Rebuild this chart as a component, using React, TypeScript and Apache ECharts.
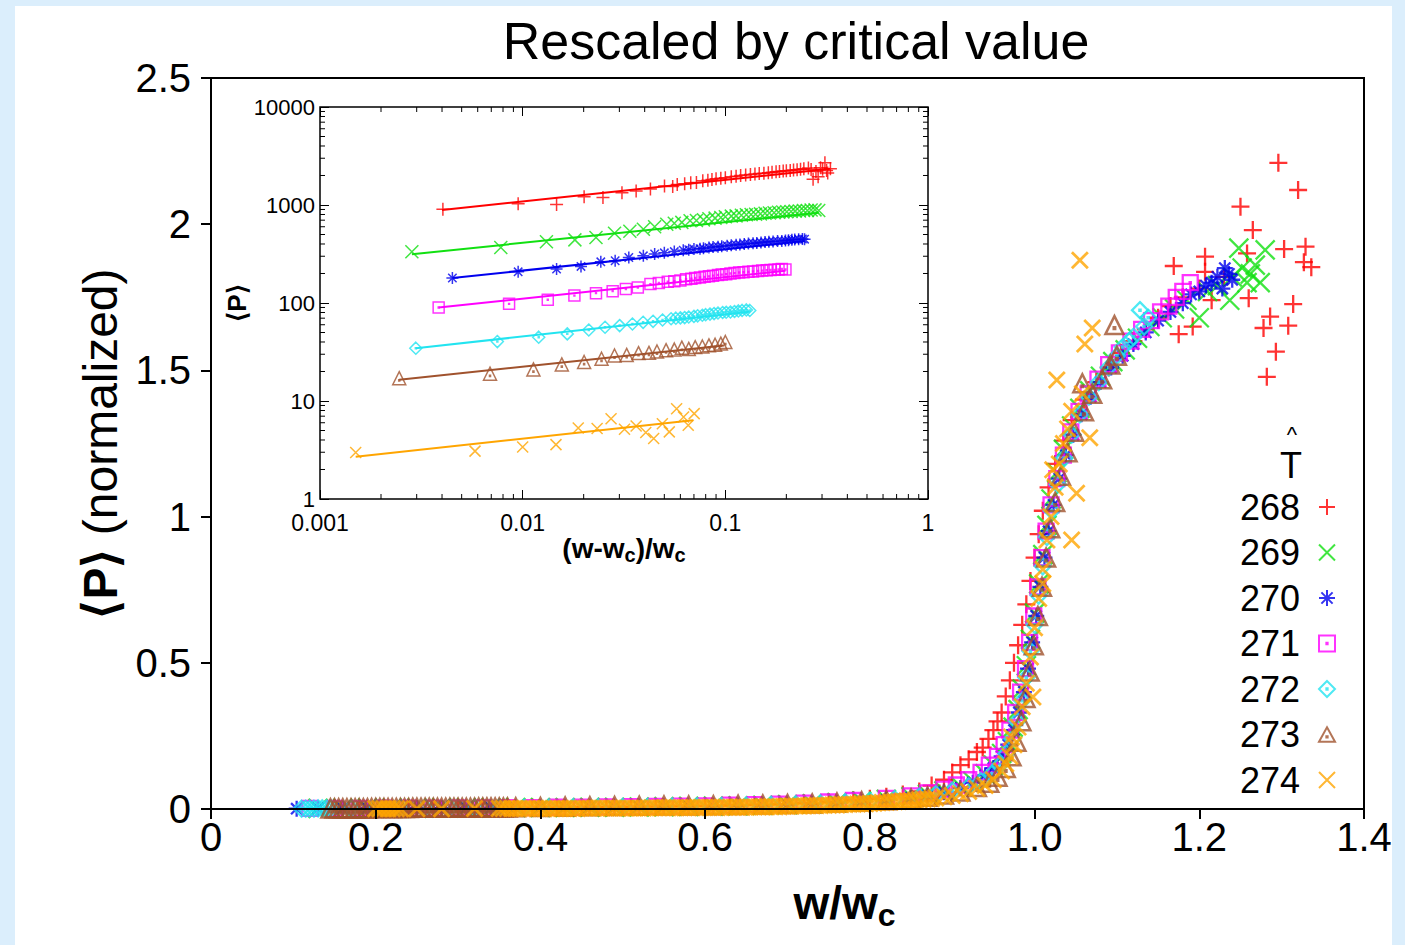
import React, { useEffect, useRef } from 'react';
import * as echarts from 'echarts';

const FONT = "'Liberation Sans', Arial, Helvetica, sans-serif";

const SERIES_NAMES = ['268', '269', '270', '271', '272', '273', '274'];
const COLORS = ['#ff0000', '#11e011', '#0000ee', '#ff00ff', '#22e4f0', '#a0522d', '#ffa500'];

const TITLE = 'Rescaled by critical value';
const MAIN_X_TICKS_MIN = 0;
const MAIN_X_TICKS_MAX = 1.4;
const MAIN_Y_MAX = 2.5;

// ---------- main chart data: [w/wc, <P> normalized] ----------
const main268 = [
  [0.15, 0.002], [0.18, 0.002], [0.21, 0.003], [0.24, 0.003], [0.27, 0.003], [0.30, 0.004], [0.33, 0.004], [0.36, 0.004],
  [0.39, 0.005], [0.42, 0.005], [0.45, 0.006], [0.48, 0.006], [0.51, 0.007], [0.54, 0.008], [0.57, 0.009], [0.60, 0.010],
  [0.63, 0.012], [0.66, 0.014], [0.69, 0.016], [0.72, 0.020], [0.75, 0.024], [0.78, 0.030], [0.80, 0.035], [0.82, 0.042],
  [0.84, 0.050], [0.86, 0.060], [0.875, 0.080], [0.89, 0.100], [0.90, 0.125], [0.91, 0.150], [0.92, 0.170], [0.93, 0.195],
  [0.937, 0.21], [0.944, 0.24], [0.95, 0.27], [0.955, 0.30], [0.96, 0.33], [0.965, 0.385], [0.97, 0.44], [0.975, 0.50],
  [0.98, 0.56], [0.985, 0.63], [0.99, 0.70], [0.995, 0.78], [1.0, 0.86], [1.005, 0.94], [1.01, 1.02], [1.017, 1.10],
  [1.025, 1.18], [1.035, 1.26], [1.045, 1.33], [1.06, 1.40], [1.075, 1.46], [1.09, 1.51], [1.105, 1.56], [1.12, 1.60],
  [1.135, 1.64], [1.15, 1.68], [1.165, 1.72], [1.169, 1.857], [1.175, 1.624], [1.18, 1.75], [1.192, 1.65], [1.20, 1.78],
  [1.207, 1.889], [1.207, 1.837], [1.215, 1.74], [1.23, 1.82], [1.25, 2.06], [1.258, 1.90], [1.26, 1.747], [1.265, 1.98],
  [1.278, 1.645], [1.282, 1.478], [1.286, 1.684], [1.293, 1.564], [1.296, 2.21], [1.303, 1.915], [1.308, 1.653],
  [1.314, 1.727], [1.32, 2.117], [1.327, 1.87], [1.329, 1.923], [1.336, 1.853],
];
const main269 = [
  [0.13, 0.002], [0.16, 0.002], [0.19, 0.003], [0.22, 0.003], [0.25, 0.003], [0.28, 0.004], [0.31, 0.004], [0.34, 0.004],
  [0.37, 0.005], [0.40, 0.005], [0.43, 0.005], [0.46, 0.006], [0.49, 0.006], [0.52, 0.007], [0.55, 0.008], [0.58, 0.009],
  [0.61, 0.010], [0.64, 0.011], [0.67, 0.013], [0.70, 0.015], [0.73, 0.018], [0.76, 0.022], [0.79, 0.027], [0.82, 0.033],
  [0.85, 0.042], [0.87, 0.050], [0.89, 0.062], [0.91, 0.078], [0.925, 0.095], [0.94, 0.12], [0.95, 0.15], [0.96, 0.19],
  [0.967, 0.23], [0.974, 0.28], [0.98, 0.34], [0.985, 0.41], [0.99, 0.49], [0.995, 0.58], [1.0, 0.67], [1.005, 0.77],
  [1.01, 0.87], [1.015, 0.97], [1.02, 1.06], [1.027, 1.15], [1.035, 1.23], [1.045, 1.31], [1.055, 1.37], [1.067, 1.43],
  [1.08, 1.48], [1.095, 1.53], [1.11, 1.57], [1.125, 1.61], [1.14, 1.65], [1.155, 1.68], [1.17, 1.71], [1.185, 1.74],
  [1.20, 1.68], [1.21, 1.77], [1.222, 1.79], [1.237, 1.74], [1.24, 1.82], [1.248, 1.918], [1.252, 1.85], [1.258, 1.80],
  [1.262, 1.83], [1.268, 1.86], [1.274, 1.80], [1.28, 1.912],
];
const main270 = [
  [0.104, 0.001], [0.13, 0.002], [0.16, 0.002], [0.19, 0.002], [0.22, 0.003], [0.25, 0.003], [0.28, 0.003], [0.31, 0.004],
  [0.34, 0.004], [0.37, 0.004], [0.40, 0.005], [0.43, 0.005], [0.46, 0.006], [0.49, 0.006], [0.52, 0.007], [0.55, 0.008],
  [0.58, 0.008], [0.61, 0.009], [0.64, 0.011], [0.67, 0.012], [0.70, 0.014], [0.73, 0.017], [0.76, 0.021], [0.79, 0.025],
  [0.82, 0.030], [0.85, 0.038], [0.87, 0.046], [0.89, 0.057], [0.91, 0.072], [0.925, 0.09], [0.94, 0.115], [0.95, 0.14],
  [0.96, 0.18], [0.968, 0.22], [0.975, 0.27], [0.981, 0.33], [0.987, 0.40], [0.992, 0.48], [0.997, 0.57], [1.002, 0.66],
  [1.007, 0.76], [1.012, 0.86], [1.017, 0.95], [1.023, 1.04], [1.03, 1.13], [1.038, 1.21], [1.047, 1.28], [1.057, 1.35],
  [1.068, 1.41], [1.08, 1.46], [1.093, 1.51], [1.107, 1.55], [1.12, 1.59], [1.135, 1.63], [1.15, 1.67], [1.165, 1.70],
  [1.18, 1.73], [1.19, 1.76], [1.20, 1.77], [1.208, 1.79], [1.215, 1.80], [1.222, 1.82], [1.228, 1.78], [1.231, 1.85],
  [1.236, 1.83], [1.24, 1.81],
];
const main271 = [
  [0.12, 0.002], [0.15, 0.002], [0.18, 0.002], [0.21, 0.003], [0.24, 0.003], [0.27, 0.003], [0.30, 0.004], [0.33, 0.004],
  [0.36, 0.005], [0.39, 0.005], [0.42, 0.006], [0.45, 0.006], [0.48, 0.007], [0.51, 0.008], [0.54, 0.009], [0.57, 0.010],
  [0.60, 0.011], [0.63, 0.013], [0.66, 0.015], [0.69, 0.017], [0.72, 0.020], [0.75, 0.024], [0.78, 0.029], [0.82, 0.036],
  [0.85, 0.045], [0.87, 0.055], [0.89, 0.068], [0.905, 0.082], [0.92, 0.10], [0.935, 0.125], [0.945, 0.15], [0.955, 0.18],
  [0.963, 0.22], [0.97, 0.27], [0.977, 0.33], [0.983, 0.40], [0.989, 0.48], [0.994, 0.57], [0.999, 0.66], [1.004, 0.76],
  [1.009, 0.86], [1.014, 0.95], [1.02, 1.04], [1.027, 1.13], [1.035, 1.21], [1.044, 1.29], [1.054, 1.36], [1.065, 1.42],
  [1.077, 1.47], [1.09, 1.52], [1.103, 1.56], [1.117, 1.60], [1.13, 1.64], [1.142, 1.67], [1.153, 1.70], [1.163, 1.72],
  [1.172, 1.75], [1.18, 1.77], [1.189, 1.80],
];
const main272 = [
  [0.11, 0.001], [0.115, 0.001], [0.12, 0.001], [0.125, 0.001], [0.13, 0.002], [0.135, 0.002], [0.14, 0.002], [0.145, 0.002],
  [0.17, 0.002], [0.20, 0.003], [0.23, 0.003],
  [0.26, 0.003], [0.29, 0.004], [0.32, 0.004], [0.35, 0.004], [0.38, 0.005], [0.41, 0.005], [0.44, 0.006], [0.47, 0.006],
  [0.50, 0.007], [0.53, 0.007], [0.56, 0.008], [0.59, 0.009], [0.62, 0.010], [0.65, 0.012], [0.68, 0.014], [0.71, 0.016],
  [0.74, 0.019], [0.77, 0.023], [0.80, 0.028], [0.83, 0.034], [0.86, 0.042], [0.88, 0.050], [0.90, 0.062], [0.92, 0.078],
  [0.935, 0.095], [0.948, 0.12], [0.958, 0.15], [0.966, 0.19], [0.973, 0.24], [0.979, 0.30], [0.985, 0.37], [0.99, 0.45],
  [0.995, 0.54], [1.0, 0.63], [1.005, 0.73], [1.01, 0.83], [1.015, 0.93], [1.021, 1.02], [1.028, 1.11], [1.036, 1.20],
  [1.045, 1.28], [1.055, 1.35], [1.066, 1.41], [1.078, 1.46], [1.09, 1.51], [1.10, 1.55], [1.107, 1.58], [1.115, 1.60],
  [1.12, 1.615], [1.128, 1.706], [1.133, 1.65], [1.138, 1.68],
];
const main273 = [
  [0.145, 0.002], [0.15, 0.002], [0.155, 0.002], [0.16, 0.002], [0.165, 0.002], [0.17, 0.002], [0.175, 0.002], [0.18, 0.002],
  [0.185, 0.002], [0.19, 0.002], [0.195, 0.003], [0.20, 0.003], [0.205, 0.003], [0.21, 0.003], [0.215, 0.003], [0.22, 0.003],
  [0.225, 0.003], [0.23, 0.003], [0.235, 0.003], [0.24, 0.003], [0.245, 0.004], [0.25, 0.004], [0.255, 0.004], [0.26, 0.004],
  [0.265, 0.004], [0.27, 0.004], [0.275, 0.004], [0.28, 0.004], [0.285, 0.004], [0.29, 0.004], [0.295, 0.004], [0.30, 0.004],
  [0.305, 0.004], [0.31, 0.004], [0.315, 0.004], [0.32, 0.004], [0.325, 0.005], [0.33, 0.005], [0.335, 0.005], [0.34, 0.005],
  [0.345, 0.005], [0.35, 0.005], [0.355, 0.005], [0.36, 0.005],
  [0.37, 0.006], [0.40, 0.007], [0.43, 0.008], [0.46, 0.009], [0.49, 0.010], [0.52, 0.011], [0.55, 0.012], [0.58, 0.012],
  [0.61, 0.013], [0.64, 0.014], [0.67, 0.015], [0.70, 0.017], [0.73, 0.019], [0.76, 0.022], [0.79, 0.026], [0.82, 0.030],
  [0.85, 0.036], [0.87, 0.042], [0.89, 0.050], [0.91, 0.060], [0.93, 0.075], [0.945, 0.09], [0.955, 0.11], [0.965, 0.14],
  [0.972, 0.18], [0.978, 0.23], [0.984, 0.30], [0.989, 0.38], [0.994, 0.47], [0.999, 0.56], [1.004, 0.66], [1.009, 0.76],
  [1.014, 0.86], [1.019, 0.96], [1.025, 1.05], [1.032, 1.14], [1.04, 1.22], [1.048, 1.29], [1.058, 1.456], [1.06, 1.36],
  [1.07, 1.42], [1.082, 1.47], [1.092, 1.52], [1.097, 1.655], [1.10, 1.55],
];
const main274 = [
  [0.20, 0.001], [0.205, 0.001], [0.21, 0.001], [0.215, 0.001], [0.22, 0.001], [0.225, 0.001], [0.23, 0.001], [0.25, 0.001],
  [0.28, 0.001], [0.32, 0.002], [0.35, 0.002], [0.355, 0.002],
  [0.36, 0.002], [0.365, 0.002], [0.37, 0.002], [0.375, 0.002], [0.38, 0.002], [0.385, 0.002], [0.39, 0.002], [0.395, 0.002],
  [0.40, 0.002], [0.405, 0.002], [0.41, 0.002], [0.415, 0.002], [0.42, 0.002], [0.425, 0.002], [0.43, 0.002], [0.435, 0.002],
  [0.44, 0.002], [0.445, 0.002], [0.45, 0.003], [0.455, 0.003], [0.46, 0.003], [0.465, 0.003], [0.47, 0.003], [0.475, 0.003],
  [0.48, 0.003], [0.485, 0.003], [0.49, 0.003], [0.495, 0.003], [0.50, 0.003], [0.505, 0.003], [0.51, 0.003], [0.515, 0.003],
  [0.52, 0.003], [0.525, 0.003], [0.53, 0.003], [0.535, 0.004], [0.54, 0.004], [0.545, 0.004], [0.55, 0.004], [0.555, 0.004],
  [0.56, 0.004], [0.565, 0.004], [0.57, 0.004], [0.575, 0.004], [0.58, 0.004], [0.585, 0.005], [0.59, 0.005], [0.595, 0.005],
  [0.60, 0.005], [0.605, 0.005], [0.61, 0.005], [0.615, 0.005], [0.62, 0.005], [0.625, 0.006], [0.63, 0.006], [0.635, 0.006],
  [0.64, 0.006], [0.645, 0.006], [0.65, 0.006], [0.655, 0.007], [0.66, 0.007], [0.665, 0.007], [0.67, 0.007], [0.675, 0.008],
  [0.68, 0.008], [0.685, 0.008], [0.69, 0.008], [0.695, 0.009], [0.70, 0.009], [0.705, 0.010], [0.71, 0.010], [0.715, 0.010],
  [0.72, 0.010], [0.725, 0.011], [0.73, 0.011], [0.735, 0.012], [0.74, 0.012], [0.745, 0.013], [0.75, 0.013], [0.755, 0.014],
  [0.76, 0.014], [0.765, 0.015], [0.77, 0.015], [0.775, 0.016], [0.78, 0.016], [0.785, 0.017], [0.79, 0.018], [0.795, 0.018],
  [0.80, 0.019], [0.805, 0.020], [0.81, 0.021], [0.815, 0.022], [0.82, 0.023], [0.825, 0.024], [0.83, 0.025], [0.835, 0.026],
  [0.84, 0.027], [0.845, 0.028], [0.85, 0.029], [0.855, 0.030], [0.86, 0.032], [0.865, 0.033], [0.87, 0.035], [0.875, 0.036],
  [0.88, 0.038], [0.89, 0.042], [0.90, 0.046], [0.91, 0.052],
  [0.92, 0.060], [0.93, 0.070], [0.94, 0.080], [0.95, 0.10], [0.96, 0.13], [0.965, 0.155], [0.97, 0.18], [0.972, 0.246],
  [0.975, 0.22], [0.98, 0.28], [0.985, 0.35], [0.99, 0.43], [0.995, 0.52], [0.998, 0.383], [1.0, 0.62], [1.005, 0.72],
  [1.01, 0.77], [1.01, 0.82], [1.015, 0.92], [1.02, 1.0], [1.022, 1.16], [1.025, 1.10], [1.027, 1.467], [1.03, 1.18],
  [1.035, 1.25], [1.04, 1.30], [1.045, 0.92], [1.045, 1.36], [1.051, 1.08], [1.055, 1.877], [1.058, 1.42], [1.061, 1.59],
  [1.067, 1.27], [1.07, 1.645],
];

// ---------- inset data: [(w-wc)/wc, <P>] ----------
const inset268 = [
  [0.00404, 904], [0.0095, 1032], [0.0147, 1010], [0.0201, 1216], [0.0249, 1190], [0.0309, 1334], [0.0363, 1387], [0.0427, 1460],
  [0.0501, 1560], [0.055, 1540], [0.0579, 1620], [0.063, 1650], [0.0675, 1687], [0.072, 1700], [0.0774, 1766], [0.082, 1790],
  [0.0859, 1823], [0.09, 1850], [0.095, 1880], [0.1, 1900], [0.107, 1938], [0.113, 1960], [0.119, 2000], [0.126, 2020],
  [0.133, 2050], [0.14, 2070], [0.147, 2100], [0.155, 2110], [0.163, 2130], [0.17, 2160], [0.178, 2180], [0.185, 2200],
  [0.193, 2220], [0.2, 2230], [0.209, 2250], [0.217, 2270], [0.226, 2290], [0.235, 2310], [0.244, 2340], [0.257, 2380],
  [0.265, 2300], [0.271, 1830], [0.28, 2200], [0.287, 1940], [0.295, 2400], [0.302, 2320], [0.31, 2700], [0.316, 2250],
  [0.32, 2120], [0.33, 2340],
];
const inset269 = [
  [0.00284, 333], [0.0078, 368], [0.0131, 421], [0.0181, 441], [0.023, 466], [0.0284, 515], [0.0338, 540], [0.0394, 565],
  [0.0448, 600], [0.0514, 635], [0.056, 650], [0.061, 665], [0.067, 690], [0.072, 695], [0.078, 705], [0.083, 725],
  [0.089, 735], [0.095, 745], [0.1, 760], [0.107, 770], [0.113, 775], [0.12, 785], [0.127, 795], [0.134, 800],
  [0.141, 805], [0.149, 812], [0.157, 825], [0.165, 830], [0.174, 835], [0.183, 842], [0.192, 848], [0.201, 855],
  [0.211, 860], [0.221, 866], [0.232, 870], [0.243, 878], [0.254, 880], [0.265, 888], [0.277, 892], [0.289, 880],
];
const inset270 = [
  [0.0045, 180], [0.0095, 208], [0.0147, 222], [0.0194, 236], [0.0243, 263], [0.0286, 270], [0.0334, 291], [0.0394, 303],
  [0.0448, 316], [0.05, 325], [0.056, 335], [0.062, 345], [0.066, 350], [0.07, 355], [0.075, 358], [0.078, 362],
  [0.083, 368], [0.087, 372], [0.092, 376], [0.096, 380], [0.102, 384], [0.107, 388], [0.113, 392], [0.118, 395],
  [0.124, 400], [0.13, 405], [0.137, 407], [0.143, 410], [0.15, 414], [0.157, 418], [0.164, 421], [0.172, 425],
  [0.181, 428], [0.19, 430], [0.198, 434], [0.205, 438], [0.213, 441], [0.22, 445], [0.23, 447], [0.24, 450], [0.246, 448],
];
const inset271 = [
  [0.00385, 90], [0.00857, 98], [0.0133, 108], [0.018, 119], [0.023, 126], [0.0278, 132], [0.0323, 139], [0.037, 144],
  [0.0427, 156], [0.047, 160], [0.052, 165], [0.056, 167], [0.06, 170], [0.064, 175], [0.068, 177], [0.071, 180],
  [0.075, 182], [0.079, 185], [0.083, 187], [0.087, 190], [0.092, 193], [0.096, 195], [0.101, 197], [0.106, 200],
  [0.111, 202], [0.117, 205], [0.123, 206], [0.13, 208], [0.137, 210], [0.145, 212], [0.152, 214], [0.16, 216],
  [0.167, 217], [0.175, 218], [0.183, 220], [0.19, 222], [0.198, 220],
];
const inset272 = [
  [0.00297, 34.6], [0.0075, 40.4], [0.012, 44.8], [0.0166, 48.4], [0.0212, 53], [0.0255, 56.6], [0.0301, 58.8], [0.0348, 61.1],
  [0.0393, 63.5], [0.044, 65], [0.049, 67], [0.054, 69], [0.057, 70], [0.06, 70.5], [0.063, 71], [0.066, 72], [0.07, 73],
  [0.073, 74], [0.077, 75], [0.08, 76], [0.084, 77], [0.088, 78], [0.092, 79], [0.097, 80], [0.101, 80.5], [0.106, 81],
  [0.111, 82], [0.116, 83], [0.121, 84], [0.127, 85], [0.132, 84],
];
const inset273 = [
  [0.00246, 17.1], [0.0069, 19], [0.0113, 21], [0.0156, 23.6], [0.0201, 25], [0.0245, 27], [0.0284, 29.1], [0.0326, 29.5],
  [0.0373, 30.8], [0.042, 31], [0.046, 32], [0.051, 33], [0.056, 33.5], [0.061, 35], [0.066, 34], [0.071, 35.5],
  [0.077, 36], [0.083, 37], [0.089, 37.5], [0.095, 38.5], [0.1, 40],
];
const inset274 = [
  [0.0015, 2.98], [0.00582, 3.08], [0.01, 3.4], [0.0146, 3.59], [0.0188, 5.31], [0.0233, 5.23], [0.0273, 6.6], [0.0318, 5.15],
  [0.0363, 5.57], [0.0405, 4.76], [0.0443, 4.14], [0.0489, 5.87], [0.0529, 4.84], [0.0575, 8.35], [0.0622, 6.87],
  [0.0656, 5.66], [0.0702, 7.43],
];

// power-law fit lines (end points)
const fit268 = [[0.004, 889], [0.33, 2340]];
const fit269 = [[0.00284, 315], [0.289, 835]];
const fit270 = [[0.0045, 180], [0.246, 430]];
const fit271 = [[0.00385, 90], [0.198, 213]];
const fit272 = [[0.00297, 34.6], [0.132, 81.6]];
const fit273 = [[0.00246, 16.5], [0.0984, 36.8]];
const fit274 = [[0.0015, 2.7], [0.0693, 6.36]];

const INSET_X_MIN = 0.001;
const INSET_X_MAX = 1;
const INSET_Y_MIN = 1;
const INSET_Y_MAX = 10000;
const INSET_X_MINOR = [
  0.002, 0.003, 0.004, 0.005, 0.006, 0.007, 0.008, 0.009,
  0.02, 0.03, 0.04, 0.05, 0.06, 0.07, 0.08, 0.09,
  0.2, 0.3, 0.4, 0.5, 0.6, 0.7, 0.8, 0.9,
];
const INSET_Y_MINOR = [
  2, 3, 4, 5, 6, 7, 8, 9, 20, 30, 40, 50, 60, 70, 80, 90,
  200, 300, 400, 500, 600, 700, 800, 900, 2000, 3000, 4000, 5000, 6000, 7000, 8000, 9000,
];

const MAIN_DATA = [main268, main269, main270, main271, main272, main273, main274];
const INSET_DATA = [inset268, inset269, inset270, inset271, inset272, inset273, inset274];
const FIT_DATA = [fit268, fit269, fit270, fit271, fit272, fit273, fit274];

const DOT = 'M4.6,4.6L5.4,4.6L5.4,5.4L4.6,5.4Z';
const SYMBOLS = [
  'path://M5,0L5,10M0,5L10,5',
  'path://M0,0L10,10M10,0L0,10',
  'path://M5,0L5,10M0,5L10,5M1.5,1.5L8.5,8.5M8.5,1.5L1.5,8.5',
  'path://M0,0L10,0L10,10L0,10Z' + DOT,
  'path://M5,0L10,5L5,10L0,5Z' + DOT,
  'path://M5,0L10,9L0,9Z' + 'M4.6,5.6L5.4,5.6L5.4,6.4L4.6,6.4Z',
  'path://M0,0L10,10M10,0L0,10',
];
const MAIN_SIZES = [18, 19, 16, 15, 16, 18, 16];
const MAIN_STROKES = [2.3, 2.3, 2.3, 2.3, 2.3, 2.5, 2.8];
const INSET_SIZES = [13, 13, 12, 11, 12, 13, 11];

function logLabel(v: number) {
  const e = Math.round(Math.log10(v));
  return e >= 0 ? String(Math.round(Math.pow(10, e))) : Math.pow(10, e).toFixed(-e);
}

export default function App() {
  const ref = useRef<HTMLDivElement>(null);
  useEffect(() => {
    const chart = echarts.init(ref.current!, null, { renderer: 'svg' });
    const series: any[] = [];
    SERIES_NAMES.forEach((name, i) => {
      series.push({
        name,
        type: 'scatter',
        xAxisIndex: 0,
        yAxisIndex: 0,
        data: MAIN_DATA[i],
        symbol: SYMBOLS[i],
        symbolSize: MAIN_SIZES[i],
        itemStyle: { color: 'transparent', borderColor: COLORS[i], borderWidth: MAIN_STROKES[i] },
        z: 2 + i * 0.01,
      });
    });
    SERIES_NAMES.forEach((name, i) => {
      series.push({
        name: name + ' inset',
        type: 'scatter',
        xAxisIndex: 1,
        yAxisIndex: 1,
        data: INSET_DATA[i],
        symbol: SYMBOLS[i],
        symbolSize: INSET_SIZES[i],
        itemStyle: { color: 'transparent', borderColor: COLORS[i], borderWidth: 1.5 },
        z: 3,
      });
      series.push({
        name: name + ' fit',
        type: 'line',
        xAxisIndex: 1,
        yAxisIndex: 1,
        data: FIT_DATA[i],
        symbol: 'none',
        lineStyle: { color: COLORS[i], width: 2 },
        z: 4,
      });
    });
    const tick = (x1: number, y1: number, x2: number, y2: number) => ({
      type: 'line',
      shape: { x1, y1, x2, y2 },
      style: { stroke: '#000', lineWidth: 1 },
    });
    series.push({
      type: 'custom',
      name: 'xminor',
      xAxisIndex: 1,
      yAxisIndex: 1,
      silent: true,
      clip: false,
      data: INSET_X_MINOR.map((v) => [v, INSET_Y_MIN]),
      renderItem: (params: any, api: any) => {
        const b = api.coord([api.value(0), INSET_Y_MIN]);
        const t = api.coord([api.value(0), INSET_Y_MAX]);
        return { type: 'group', children: [tick(b[0], b[1], b[0], b[1] - 5), tick(t[0], t[1], t[0], t[1] + 5)] };
      },
      z: 5,
    });
    series.push({
      type: 'custom',
      name: 'yminor',
      xAxisIndex: 1,
      yAxisIndex: 1,
      silent: true,
      clip: false,
      data: INSET_Y_MINOR.map((v) => [INSET_X_MIN, v]),
      renderItem: (params: any, api: any) => {
        const l = api.coord([INSET_X_MIN, api.value(1)]);
        const r = api.coord([INSET_X_MAX, api.value(1)]);
        return { type: 'group', children: [tick(l[0], l[1], l[0] + 5, l[1]), tick(r[0], r[1], r[0] - 5, r[1])] };
      },
      z: 5,
    });

    const insetAxisCommon = {
      type: 'log',
      logBase: 10,
      gridIndex: 1,
      splitLine: { show: false },
      axisLine: { show: false },
      axisTick: { show: true, inside: true, length: 9, lineStyle: { color: '#000', width: 1 } },
    };

    const option: any = {
      animation: false,
      backgroundColor: '#dbeefc',
      textStyle: { fontFamily: FONT },
      title: {
        text: TITLE,
        left: 791,
        top: 10,
        textAlign: 'center',
        textStyle: { fontSize: 52, fontWeight: 'normal', color: '#000', fontFamily: FONT },
      },
      graphic: [
        { type: 'rect', z: -10, shape: { x: 15, y: 6, width: 1377, height: 939 }, style: { fill: '#ffffff' } },
        { type: 'text', z: 10, style: { text: 'T', x: 1291, y: 465, fontSize: 36, fontFamily: FONT, fill: '#000', align: 'center', verticalAlign: 'middle' } },
        { type: 'text', z: 10, style: { text: '^', x: 1292, y: 434, fontSize: 22, fontFamily: FONT, fill: '#000', align: 'center', verticalAlign: 'middle' } },
      ],
      legend: {
        orient: 'vertical',
        right: 64,
        top: 484,
        align: 'right',
        itemWidth: 16,
        itemHeight: 16,
        itemGap: 9.5,
        selectedMode: false,
        data: SERIES_NAMES,
        textStyle: { fontSize: 36, fontFamily: FONT, color: '#000', padding: [0, 14, 0, 0] },
        itemStyle: { borderWidth: 2 },
      },
      grid: [
        { left: 211, top: 78, width: 1153, height: 731, show: true, borderColor: '#000', borderWidth: 2, backgroundColor: 'transparent' },
        { left: 320, top: 107, width: 608, height: 392, show: true, borderColor: '#000', borderWidth: 1.5, backgroundColor: 'transparent' },
      ],
      xAxis: [
        {
          type: 'value',
          gridIndex: 0,
          min: MAIN_X_TICKS_MIN,
          max: MAIN_X_TICKS_MAX,
          interval: 0.2,
          z: 10,
          splitLine: { show: false },
          axisLine: { show: true, onZero: false, lineStyle: { color: '#000', width: 2 } },
          axisTick: { show: true, inside: false, length: 10, lineStyle: { color: '#000', width: 2 } },
          axisLabel: { fontSize: 40, color: '#000', margin: 8, formatter: (v: number) => (v === 0 ? '0' : v.toFixed(1)) },
          name: '{a|w/w}{b|c}',
          nameLocation: 'middle',
          nameGap: 66,
          nameTextStyle: {
            padding: [0, 0, 0, 114],
            rich: {
              a: { fontSize: 46, fontWeight: 'bold', color: '#000', fontFamily: FONT },
              b: { fontSize: 32, fontWeight: 'bold', color: '#000', fontFamily: FONT, padding: [24, 0, 0, 0] },
            },
          },
        },
        {
          ...insetAxisCommon,
          min: INSET_X_MIN,
          max: INSET_X_MAX,
          position: 'bottom',
          axisLabel: { fontSize: 23, color: '#000', margin: 12, formatter: logLabel },
          name: '{a|(w-w}{b|c}{a|)/w}{b|c}',
          nameLocation: 'middle',
          nameGap: 33,
          nameTextStyle: {
            rich: {
              a: { fontSize: 28, fontWeight: 'bold', color: '#000', fontFamily: FONT },
              b: { fontSize: 20, fontWeight: 'bold', color: '#000', fontFamily: FONT, padding: [12, 0, 0, 0] },
            },
          },
        },
        {
          ...insetAxisCommon,
          min: INSET_X_MIN,
          max: INSET_X_MAX,
          position: 'top',
          axisLabel: { show: false },
        },
      ],
      yAxis: [
        {
          type: 'value',
          gridIndex: 0,
          min: 0,
          max: MAIN_Y_MAX,
          interval: 0.5,
          z: 10,
          splitLine: { show: false },
          axisLine: { show: true, onZero: false, lineStyle: { color: '#000', width: 2 } },
          axisTick: { show: true, inside: false, length: 10, lineStyle: { color: '#000', width: 2 } },
          axisLabel: { fontSize: 40, color: '#000', margin: 20 },
          name: '{p|⟨P⟩} (normalized)',
          nameLocation: 'middle',
          nameGap: 84,
          nameTextStyle: {
            fontSize: 48,
            color: '#000',
            fontFamily: FONT,
            rich: { p: { fontSize: 48, fontWeight: 'bold', color: '#000', fontFamily: FONT } },
          },
        },
        {
          ...insetAxisCommon,
          min: INSET_Y_MIN,
          max: INSET_Y_MAX,
          position: 'left',
          axisLabel: { fontSize: 22, color: '#000', margin: 5, formatter: logLabel },
          name: '⟨P⟩',
          nameLocation: 'middle',
          nameGap: 60,
          nameTextStyle: { fontSize: 26, fontWeight: 'bold', color: '#000', fontFamily: FONT },
        },
        {
          ...insetAxisCommon,
          min: INSET_Y_MIN,
          max: INSET_Y_MAX,
          position: 'right',
          axisLabel: { show: false },
        },
      ],
      series,
    };
    chart.setOption(option);
    return () => chart.dispose();
  }, []);
  return <div ref={ref} style={{ position: 'absolute', left: 0, top: 0, width: 1405, height: 945 }} />;
}
